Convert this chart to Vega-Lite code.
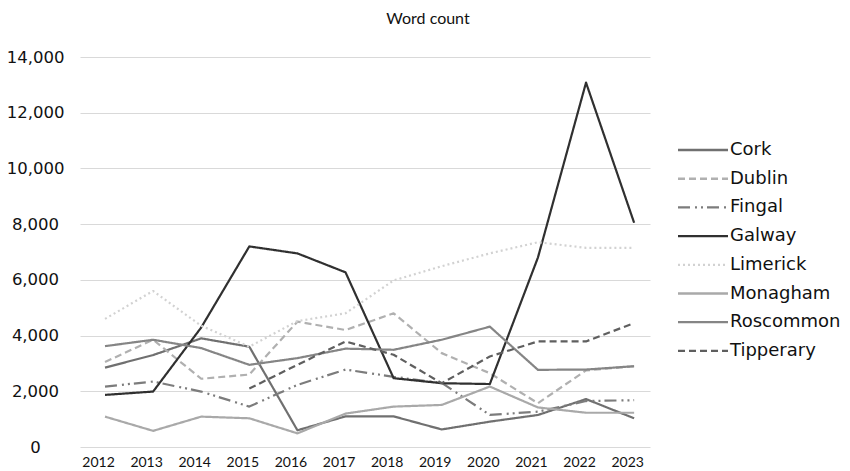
{
  "$schema": "https://vega.github.io/schema/vega-lite/v6.json",
  "width": 570,
  "height": 390,
  "autosize": {"type": "none"},
  "padding": {"left": 80, "top": 57, "right": 200, "bottom": 24},
  "background": "white",
  "title": {"text": "Word count", "frame": "group", "anchor": "middle", "dx": 63, "fontSize": 16, "font": "Lato", "fontWeight": "normal", "color": "#111", "offset": 22},
  "data": {"values": [
    {"series": "Cork", "year": 2012, "value": 2850},
    {"series": "Cork", "year": 2013, "value": 3300},
    {"series": "Cork", "year": 2014, "value": 3900},
    {"series": "Cork", "year": 2015, "value": 3600},
    {"series": "Cork", "year": 2016, "value": 600},
    {"series": "Cork", "year": 2017, "value": 1100},
    {"series": "Cork", "year": 2018, "value": 1100},
    {"series": "Cork", "year": 2019, "value": 630},
    {"series": "Cork", "year": 2020, "value": 910},
    {"series": "Cork", "year": 2021, "value": 1150},
    {"series": "Cork", "year": 2022, "value": 1720},
    {"series": "Cork", "year": 2023, "value": 1030},
    {"series": "Dublin", "year": 2012, "value": 3050},
    {"series": "Dublin", "year": 2013, "value": 3850},
    {"series": "Dublin", "year": 2014, "value": 2450},
    {"series": "Dublin", "year": 2015, "value": 2600},
    {"series": "Dublin", "year": 2016, "value": 4500},
    {"series": "Dublin", "year": 2017, "value": 4200},
    {"series": "Dublin", "year": 2018, "value": 4800},
    {"series": "Dublin", "year": 2019, "value": 3370},
    {"series": "Dublin", "year": 2020, "value": 2650},
    {"series": "Dublin", "year": 2021, "value": 1570},
    {"series": "Dublin", "year": 2022, "value": 2750},
    {"series": "Dublin", "year": 2023, "value": 2900},
    {"series": "Fingal", "year": 2012, "value": 2170},
    {"series": "Fingal", "year": 2013, "value": 2350},
    {"series": "Fingal", "year": 2014, "value": 1990},
    {"series": "Fingal", "year": 2015, "value": 1450},
    {"series": "Fingal", "year": 2016, "value": 2230},
    {"series": "Fingal", "year": 2017, "value": 2780},
    {"series": "Fingal", "year": 2018, "value": 2520},
    {"series": "Fingal", "year": 2019, "value": 2300},
    {"series": "Fingal", "year": 2020, "value": 1150},
    {"series": "Fingal", "year": 2021, "value": 1270},
    {"series": "Fingal", "year": 2022, "value": 1650},
    {"series": "Fingal", "year": 2023, "value": 1680},
    {"series": "Galway", "year": 2012, "value": 1870},
    {"series": "Galway", "year": 2013, "value": 1990},
    {"series": "Galway", "year": 2014, "value": 4290},
    {"series": "Galway", "year": 2015, "value": 7200},
    {"series": "Galway", "year": 2016, "value": 6950},
    {"series": "Galway", "year": 2017, "value": 6270},
    {"series": "Galway", "year": 2018, "value": 2470},
    {"series": "Galway", "year": 2019, "value": 2290},
    {"series": "Galway", "year": 2020, "value": 2260},
    {"series": "Galway", "year": 2021, "value": 6800},
    {"series": "Galway", "year": 2022, "value": 13080},
    {"series": "Galway", "year": 2023, "value": 8050},
    {"series": "Limerick", "year": 2012, "value": 4600},
    {"series": "Limerick", "year": 2013, "value": 5600},
    {"series": "Limerick", "year": 2014, "value": 4350},
    {"series": "Limerick", "year": 2015, "value": 3600},
    {"series": "Limerick", "year": 2016, "value": 4520},
    {"series": "Limerick", "year": 2017, "value": 4800},
    {"series": "Limerick", "year": 2018, "value": 5980},
    {"series": "Limerick", "year": 2019, "value": 6490},
    {"series": "Limerick", "year": 2020, "value": 6950},
    {"series": "Limerick", "year": 2021, "value": 7350},
    {"series": "Limerick", "year": 2022, "value": 7150},
    {"series": "Limerick", "year": 2023, "value": 7150},
    {"series": "Monagham", "year": 2012, "value": 1090},
    {"series": "Monagham", "year": 2013, "value": 580},
    {"series": "Monagham", "year": 2014, "value": 1090},
    {"series": "Monagham", "year": 2015, "value": 1030},
    {"series": "Monagham", "year": 2016, "value": 490},
    {"series": "Monagham", "year": 2017, "value": 1200},
    {"series": "Monagham", "year": 2018, "value": 1450},
    {"series": "Monagham", "year": 2019, "value": 1510},
    {"series": "Monagham", "year": 2020, "value": 2170},
    {"series": "Monagham", "year": 2021, "value": 1420},
    {"series": "Monagham", "year": 2022, "value": 1230},
    {"series": "Monagham", "year": 2023, "value": 1230},
    {"series": "Roscommon", "year": 2012, "value": 3620},
    {"series": "Roscommon", "year": 2013, "value": 3850},
    {"series": "Roscommon", "year": 2014, "value": 3550},
    {"series": "Roscommon", "year": 2015, "value": 2950},
    {"series": "Roscommon", "year": 2016, "value": 3190},
    {"series": "Roscommon", "year": 2017, "value": 3530},
    {"series": "Roscommon", "year": 2018, "value": 3490},
    {"series": "Roscommon", "year": 2019, "value": 3850},
    {"series": "Roscommon", "year": 2020, "value": 4320},
    {"series": "Roscommon", "year": 2021, "value": 2770},
    {"series": "Roscommon", "year": 2022, "value": 2780},
    {"series": "Roscommon", "year": 2023, "value": 2900},
    {"series": "Tipperary", "year": 2015, "value": 2100},
    {"series": "Tipperary", "year": 2016, "value": 2950},
    {"series": "Tipperary", "year": 2017, "value": 3790},
    {"series": "Tipperary", "year": 2018, "value": 3310},
    {"series": "Tipperary", "year": 2019, "value": 2290},
    {"series": "Tipperary", "year": 2020, "value": 3250},
    {"series": "Tipperary", "year": 2021, "value": 3790},
    {"series": "Tipperary", "year": 2022, "value": 3790},
    {"series": "Tipperary", "year": 2023, "value": 4450}
  ]},
  "mark": {"type": "line", "strokeWidth": 2.2, "strokeCap": "butt", "strokeJoin": "round"},
  "encoding": {
    "x": {
      "field": "year", "type": "quantitative",
      "scale": {"domain": [2011.48, 2023.33], "nice": false, "zero": false},
      "axis": {"values": [2012, 2013, 2014, 2015, 2016, 2017, 2018, 2019, 2020, 2021, 2022, 2023], "format": "d", "title": null, "grid": false, "domain": false, "ticks": false, "labelOffset": -7, "labelPadding": 8, "labelFontSize": 14, "labelFont": "Lato", "labelColor": "#111"}
    },
    "y": {
      "field": "value", "type": "quantitative",
      "scale": {"domain": [0, 14000], "nice": false},
      "axis": {"values": [0, 2000, 4000, 6000, 8000, 10000, 12000, 14000], "format": ",.0f", "title": null, "domain": false, "ticks": false, "gridColor": "#d9d9d9", "gridWidth": 1.2, "labelAlign": "center", "labelPadding": 45, "labelFontSize": 16.5, "labelFont": "DejaVu Sans", "labelColor": "#111"}
    },
    "color": {
      "field": "series", "type": "nominal",
      "scale": {
        "domain": ["Cork", "Dublin", "Fingal", "Galway", "Limerick", "Monagham", "Roscommon", "Tipperary"],
        "range": ["#707070", "#b0b0b0", "#7c7c7c", "#303030", "#d2d2d2", "#a9a9a9", "#858585", "#5f5f5f"]
      },
      "legend": {"title": null, "orient": "none", "legendX": 614, "legendY": 84, "symbolType": "M-25,0H25", "symbolSize": 4, "symbolStrokeWidth": 2.5, "labelFontSize": 18, "labelFont": "DejaVu Sans", "labelColor": "#111", "labelOffset": 18, "rowPadding": 10.7}
    },
    "strokeDash": {
      "field": "series", "type": "nominal",
      "scale": {
        "domain": ["Cork", "Dublin", "Fingal", "Galway", "Limerick", "Monagham", "Roscommon", "Tipperary"],
        "range": [[1, 0], [7, 4], [12, 5, 2, 4, 2, 4], [1, 0], [2, 3], [1, 0], [1, 0], [7, 4]]
      },
      "legend": null
    },
    "strokeWidth": {
      "field": "series", "type": "nominal",
      "scale": {
        "domain": ["Cork", "Dublin", "Fingal", "Galway", "Limerick", "Monagham", "Roscommon", "Tipperary"],
        "range": [2.4, 2.2, 2.2, 2.8, 2, 2.2, 2.4, 2.4]
      },
      "legend": null
    }
  },
  "config": {"view": {"stroke": null}}
}
